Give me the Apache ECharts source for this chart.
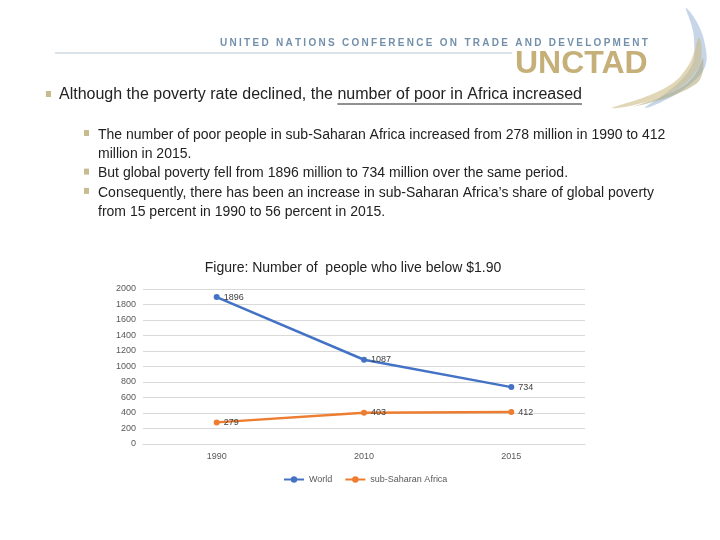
<!DOCTYPE html>
<html>
<head>
<meta charset="utf-8">
<script src="https://cdn.jsdelivr.net/npm/echarts@6/dist/echarts.min.js"></script>
<style>html,body{margin:0;padding:0;background:#fff;}#c{width:720px;height:540px;}</style>
</head>
<body>
<div id="c"></div>
<script>
const years = ['1990', '2010', '2015'];
const worldPoor = [1896, 1087, 734];
const ssaPoor = [279, 403, 412];
const seriesNames = ['World', 'sub-Saharan Africa'];
const yMin = 0, yMax = 2000, yStep = 200;

const headerText = 'UNITED NATIONS CONFERENCE ON TRADE AND DEVELOPMENT';
const headingPlain = 'Although the poverty rate declined, the ';
const headingUnder = 'number of poor in Africa increased';
const bulletLines = [
  ['The number of poor people in sub-Saharan Africa increased from 278 million in 1990 to 412', 'million in 2015.'],
  ['But global poverty fell from 1896 million to 734 million over the same period.'],
  ['Consequently, there has been an increase in sub-Saharan Africa\u2019s share of global poverty', 'from 15 percent in 1990 to 56 percent in 2015.']
];
const chartTitle = 'Figure: Number of  people who live below $1.90';

const FONT = '"Liberation Sans", Arial, sans-serif';
const ctx = document.createElement('canvas').getContext('2d');
function textW(t, font) { ctx.font = font; return ctx.measureText(t).width; }
function txt(x, y, text, font, fill, align) {
  return {type:'text', x:x, y:y, style:{text:text, font:font, fill:fill, align:align || 'left', verticalAlign:'middle'}};
}

const graphics = [];
// header, letter-spaced
(function(){
  const f = 'bold 10px ' + FONT;
  const start = 220, end = 647;
  const base = textW(headerText, f);
  const sp = (end - start - base) / (headerText.length - 1);
  let x = start;
  for (const ch of headerText) {
    graphics.push(txt(x, 43, ch, f, '#7390ab'));
    x += textW(ch, f) + sp;
  }
})();
graphics.push({type:'line', shape:{x1:55, y1:53, x2:512, y2:53}, style:{stroke:'#cfd8e0', lineWidth:1.5}});
// swoosh (behind logo text)
graphics.push({type:'polygon', shape:{smooth:0.45, points:[[686,8],[704,40],[700,75],[645,108],[688,72],[694,38]]}, style:{fill:'rgba(160,185,215,0.6)'}});
graphics.push({type:'polygon', shape:{smooth:0.45, points:[[699,38],[698,68],[665,95],[612,108],[665,88],[688,66]]}, style:{fill:'rgba(205,188,135,0.6)'}});
graphics.push({type:'polygon', shape:{smooth:0.45, points:[[703,58],[696,84],[632,107],[676,90],[694,76]]}, style:{fill:'rgba(175,168,120,0.55)'}});
graphics.push(txt(515, 64, 'UNCTAD', 'bold 32px "Liberation Sans Narrow", "Liberation Sans", Arial, sans-serif', '#c6b07a'));
// heading
graphics.push({type:'rect', shape:{x:46, y:91, width:5, height:6}, style:{fill:'#c8bb90'}});
const hf = '16px ' + FONT;
graphics.push(txt(59, 95, headingPlain + headingUnder, hf, '#222'));
const ux1 = 59 + textW(headingPlain, hf), ux2 = 59 + textW(headingPlain + headingUnder, hf);
graphics.push({type:'line', shape:{x1:ux1, y1:104, x2:ux2, y2:104}, style:{stroke:'#222', lineWidth:1}});
// bullets
let y = 135;
const lh = 19.3;
bulletLines.forEach(lines => {
  graphics.push({type:'rect', shape:{x:84, y:y-5, width:5, height:6}, style:{fill:'#c8bb90'}});
  lines.forEach(l => {
    graphics.push(txt(98, y, l, '14px ' + FONT, '#222'));
    y += lh;
  });
});
// chart title
graphics.push(txt(353, 268, chartTitle, '14px ' + FONT, '#222', 'center'));

const chart = echarts.init(document.getElementById('c'));
const lbl = {show:true, position:'right', distance:4, fontSize:9, color:'#404040', fontFamily:FONT};
chart.setOption({
  animation:false,
  backgroundColor:'#fff',
  textStyle:{fontFamily:FONT},
  grid:{left:143, right:135, top:289, bottom:96},
  legend:{data:seriesNames, left:278, top:470, itemWidth:20, itemHeight:8, itemGap:12,
    textStyle:{fontSize:9, color:'#595959', fontFamily:FONT}},
  xAxis:{type:'category', data:years, boundaryGap:true,
    axisLine:{lineStyle:{color:'#d9d9d9'}}, axisTick:{show:false},
    axisLabel:{fontSize:9, color:'#595959', margin:8}},
  yAxis:{type:'value', min:yMin, max:yMax, interval:yStep,
    axisLine:{show:false}, axisTick:{show:false},
    splitLine:{lineStyle:{color:'#d9d9d9'}},
    axisLabel:{fontSize:9, color:'#595959', margin:7, formatter:v => String(v)}},
  series:[
    {name:seriesNames[0], type:'line', data:worldPoor, color:'#4472c4', lineStyle:{width:2.5},
     symbol:'circle', symbolSize:6, label:lbl},
    {name:seriesNames[1], type:'line', data:ssaPoor, color:'#ed7d31', lineStyle:{width:2.5},
     symbol:'circle', symbolSize:6, label:lbl}
  ],
  graphic:graphics
});
</script>
</body>
</html>
